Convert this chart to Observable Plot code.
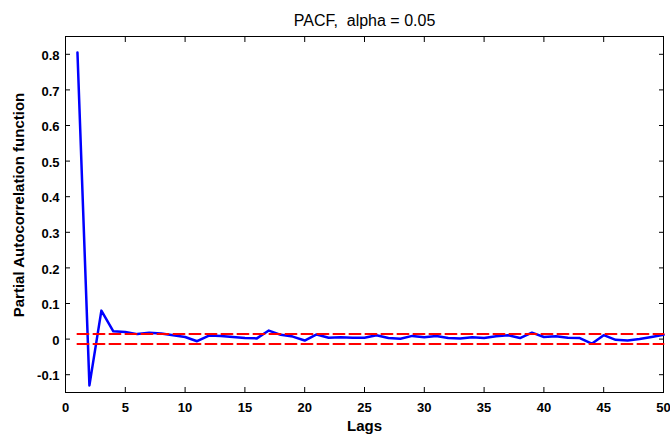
<!DOCTYPE html>
<html><head><meta charset="utf-8">
<script src="https://cdn.jsdelivr.net/npm/d3@7"></script>
<script src="https://cdn.jsdelivr.net/npm/@observablehq/plot@0.6"></script>
<style>body{margin:0;background:#fff;}</style>
</head><body><div id="chart"></div>
<script>
const lags = [1,2,3,4,5,6,7,8,9,10,11,12,13,14,15,16,17,18,19,20,21,22,23,24,25,26,27,28,29,30,31,32,33,34,35,36,37,38,39,40,41,42,43,44,45,46,47,48,49,50];
const pacf = [0.805,-0.13,0.08,0.022,0.02,0.014,0.018,0.016,0.011,0.006,
  -0.006,0.01,0.009,0.006,0.003,0.002,0.024,0.012,0.007,-0.004,
  0.013,0.004,0.005,0.004,0.004,0.011,0.003,0.001,0.009,0.005,
  0.009,0.003,0.002,0.005,0.003,0.008,0.011,0.003,0.018,0.006,
  0.008,0.004,0.003,-0.013,0.011,-0.002,-0.004,0.0,0.006,0.012];
const confBound = 0.014;
const boundLags = [1, 50];
const xTicks = [0,5,10,15,20,25,30,35,40,45,50];
const yTicks = [-0.1,0,0.1,0.2,0.3,0.4,0.5,0.6,0.7,0.8];
const titleText = "PACF,  alpha = 0.05";
const xLabel = "Lags";
const yLabel = "Partial Autocorrelation function";

const data = lags.map((l,i)=>({lag:l, value:pacf[i]}));
const upper = boundLags.map(l=>({lag:l, value:confBound}));
const lower = boundLags.map(l=>({lag:l, value:-confBound}));

const chart = Plot.plot({
  width:670, height:437, marginLeft:65, marginRight:7, marginTop:36, marginBottom:45,
  style:{fontFamily:"'Liberation Sans', Arial, sans-serif", fontSize:"13px", background:"#fff", color:"#000"},
  x:{domain:[0,50]}, y:{domain:[-0.15,0.85]},
  marks:[
    Plot.frame({stroke:"#000"}),
    Plot.axisX(xTicks,{anchor:"bottom", tickSize:0, tickPadding:10, fontWeight:"bold", fontSize:13, label:null}),
    Plot.axisX(xTicks,{anchor:"bottom", tickSize:-5, text:null, label:null}),
    Plot.axisX(xTicks,{anchor:"top", tickSize:-5, text:null, label:null}),
    Plot.axisY(yTicks,{anchor:"left", tickSize:0, tickPadding:6, dy:1.5, tickFormat:d=>String(d), fontWeight:"bold", fontSize:13, label:null}),
    Plot.axisY(yTicks,{anchor:"left", tickSize:-5, text:null, label:null}),
    Plot.axisY(yTicks,{anchor:"right", tickSize:-5, text:null, label:null}),
    Plot.line(data,{x:"lag", y:"value", stroke:"#0000ff", strokeWidth:2.5}),
    Plot.line(upper,{x:"lag", y:"value", stroke:"#ff0000", strokeWidth:2, strokeDasharray:"11,5"}),
    Plot.line(lower,{x:"lag", y:"value", stroke:"#ff0000", strokeWidth:2, strokeDasharray:"11,5"}),
    Plot.text([titleText],{frameAnchor:"top", textAnchor:"middle", lineAnchor:"middle", dy:-16, fontSize:16}),
    Plot.text([xLabel],{frameAnchor:"bottom", textAnchor:"middle", lineAnchor:"middle", dy:33.7, fontWeight:"bold", fontSize:15}),
    Plot.text([yLabel],{frameAnchor:"left", textAnchor:"middle", lineAnchor:"middle", dx:-46.8, dy:-9.5, rotate:-90, fontWeight:"bold", fontSize:15})
  ]
});
document.getElementById("chart").appendChild(chart);
</script>
</body></html>
